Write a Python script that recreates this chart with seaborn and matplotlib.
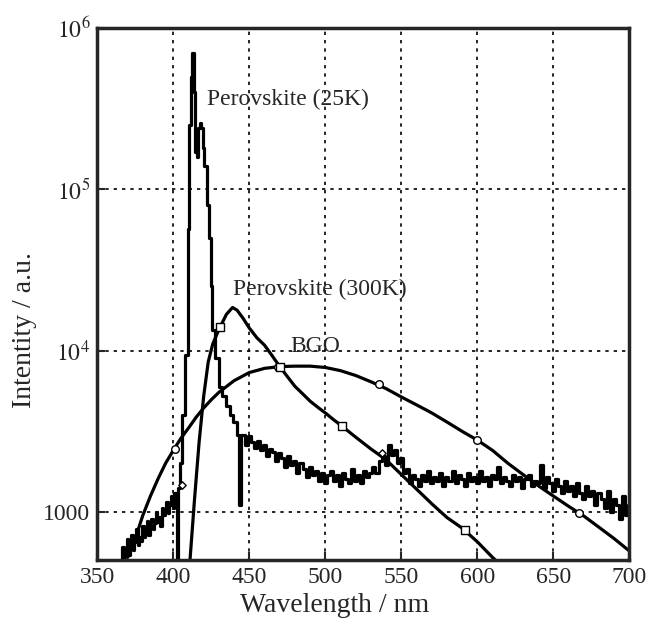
import numpy as np
import seaborn as sns
import matplotlib.pyplot as plt
from matplotlib.ticker import FixedLocator, NullLocator

# BGO (smooth)
bgo_nm = [370, 375, 380, 385, 390, 395, 400, 405, 410, 415, 420, 425, 430, 440, 450,
          460, 470, 480, 490, 500, 510, 520, 530, 540, 550, 560, 570, 580, 590, 600,
          610, 620, 630, 640, 650, 660, 670, 680, 690, 700]
bgo_int = [520, 680, 950, 1250, 1600, 2000, 2400, 2850, 3300, 3850, 4400, 4950, 5500, 6500, 7300,
           7750, 7950, 8000, 8000, 7850, 7500, 7000, 6400, 5800, 5150, 4600, 4100, 3600, 3150, 2780,
           2400, 2000, 1700, 1450, 1250, 1080, 940, 800, 680, 570]
bgo_mk_nm = [401, 469, 535, 600, 667]
bgo_mk_int = [2450, 7950, 6200, 2790, 980]

# Perovskite 300K (smooth)
p300_nm = [411, 414, 417, 420, 423, 426, 430, 435, 439, 442, 446, 450, 455, 460, 465,
           470, 475, 480, 485, 490, 495, 500, 505, 510, 520, 530, 540, 550, 560, 570,
           580, 590, 600, 610, 614]
p300_int = [500, 1200, 2700, 5200, 8500, 11000, 13500, 16800, 18500, 17800, 15800, 13800, 12000, 10800, 9300,
            7950, 6900, 6000, 5400, 4850, 4450, 4100, 3750, 3450, 2900, 2450, 2100, 1700, 1380, 1120,
            920, 790, 650, 520, 480]
p300_mk_nm = [431, 470, 511, 592]
p300_mk_int = [13900, 7950, 3420, 770]

# Perovskite 25K (noisy): short-wave tail, peak, long-wave tail
p25_left_nm = list(range(366, 403))
p25_left_int = [480, 600, 520, 560, 680, 540, 620, 720, 580, 650,
                780, 620, 700, 660, 820, 700, 760, 880, 720, 820,
                900, 780, 850, 1000, 860, 930, 820, 1050, 950, 1000,
                1150, 980, 1100, 1250, 1050, 1300, 1250]
p25_peak_nm = [402.5, 403, 403.5, 405, 407, 409, 409.8, 410, 411, 412, 413, 414, 415, 416, 417,
               418, 419, 420, 421, 423, 424, 425, 426, 429, 431, 433, 436, 438, 441, 443,
               443.5, 444, 444.5]
p25_peak_int = [300, 300, 1400, 2000, 4000, 9400, 20000, 57000, 250000, 500000, 700000, 400000, 170000, 160000, 240000,
                260000, 240000, 180000, 140000, 80000, 50000, 25000, 13500, 9000, 5900, 5200, 4500, 4000, 3600, 3000,
                1100, 1100, 3000]
p25_right_nm = list(range(446, 701, 2))
p25_right_int = [3000, 2600, 2950, 2700, 2500, 2750, 2400, 2600, 2200, 2450,
                 2350, 2050, 2300, 2150, 1900, 2200, 1950, 2050, 1750, 2000,
                 1850, 1650, 1900, 1700, 1800, 1550, 1750, 1500, 1700, 1800,
                 1550, 1700, 1450, 1750, 1600, 1500, 1850, 1550, 1700, 1500,
                 1800, 1650, 1750, 1900, 1750, 2050, 2200, 1950, 2600, 2250,
                 2400, 2000, 2150, 1750, 1850, 1500, 1700, 1600, 1450, 1700,
                 1550, 1800, 1500, 1650, 1550, 1750, 1450, 1650, 1550, 1800,
                 1500, 1700, 1600, 1450, 1750, 1550, 1650, 1500, 1800, 1550,
                 1650, 1450, 1700, 1600, 1900, 1500, 1650, 1550, 1450, 1700,
                 1550, 1650, 1400, 1600, 1700, 1450, 1550, 1500, 1950, 1400,
                 1650, 1500, 1350, 1600, 1450, 1300, 1550, 1350, 1450, 1250,
                 1500, 1300, 1200, 1450, 1250, 1350, 1100, 1300, 1200, 1050,
                 1350, 1000, 1200, 1100, 900, 1250, 950, 1100]
p25_nm = p25_left_nm + p25_peak_nm + p25_right_nm
p25_int = p25_left_int + p25_peak_int + p25_right_int
p25_mk_nm = [406, 537]
p25_mk_int = [1470, 2300]

x_ticks = [350, 400, 450, 500, 550, 600, 650, 700]
y_ticks = [1000, 1e4, 1e5, 1e6]
y_ticklabels = ['1000', '$10^4$', '$10^5$', '$10^6$']

sns.set_style("ticks")
plt.rcParams['font.family'] = ['Liberation Serif', 'DejaVu Serif']
plt.rcParams['mathtext.fontset'] = 'stix'

fig = plt.figure(figsize=(6.57, 6.28), dpi=100)
ax = fig.add_axes([0.148, 0.108, 0.81, 0.847])

sns.lineplot(x=p25_nm, y=p25_int, ax=ax, color='black', lw=2.3, estimator=None, sort=False,
             drawstyle='steps-mid')
sns.lineplot(x=p300_nm, y=p300_int, ax=ax, color='black', lw=2.3, estimator=None, sort=False)
sns.lineplot(x=bgo_nm, y=bgo_int, ax=ax, color='black', lw=2.3, estimator=None, sort=False)

sns.scatterplot(x=bgo_mk_nm, y=bgo_mk_int, ax=ax, marker='o', s=30, facecolor='white',
                edgecolor='black', linewidth=1, zorder=5)
sns.scatterplot(x=p300_mk_nm, y=p300_mk_int, ax=ax, marker='s', s=30, facecolor='white',
                edgecolor='black', linewidth=1, zorder=5)
sns.scatterplot(x=p25_mk_nm, y=p25_mk_int, ax=ax, marker='D', s=14, facecolor='white',
                edgecolor='black', linewidth=1, zorder=5)

ax.set_yscale('log')
ax.set_xlim(350, 700)
ax.set_ylim(500, 1e6)
ax.xaxis.set_major_locator(FixedLocator(x_ticks))
ax.yaxis.set_major_locator(FixedLocator(y_ticks))
ax.yaxis.set_minor_locator(NullLocator())
ax.set_yticklabels(y_ticklabels)
ax.tick_params(direction='in', length=6, width=1.5, labelsize=17, pad=5)
ax.grid(True, color='black', linestyle=(0, (2, 3)), linewidth=1.2)
for s in ax.spines.values():
    s.set_linewidth(2.5)
    s.set_visible(True)

ax.set_xlabel('Wavelength / nm', fontsize=20)
ax.set_ylabel('Intentity / a.u.', fontsize=20)
ax.xaxis.set_label_coords(0.447, -0.062)
ax.yaxis.set_label_coords(-0.113, 0.432)

ax.text(422, 3.6e5, 'Perovskite (25K)', fontsize=17, va='center', ha='left')
ax.text(439, 2.4e4, 'Perovskite (300K)', fontsize=17, va='center', ha='left')
ax.text(477, 1.06e4, 'BGO', fontsize=17, va='center', ha='left')

plt.savefig('out.png', dpi=100)
